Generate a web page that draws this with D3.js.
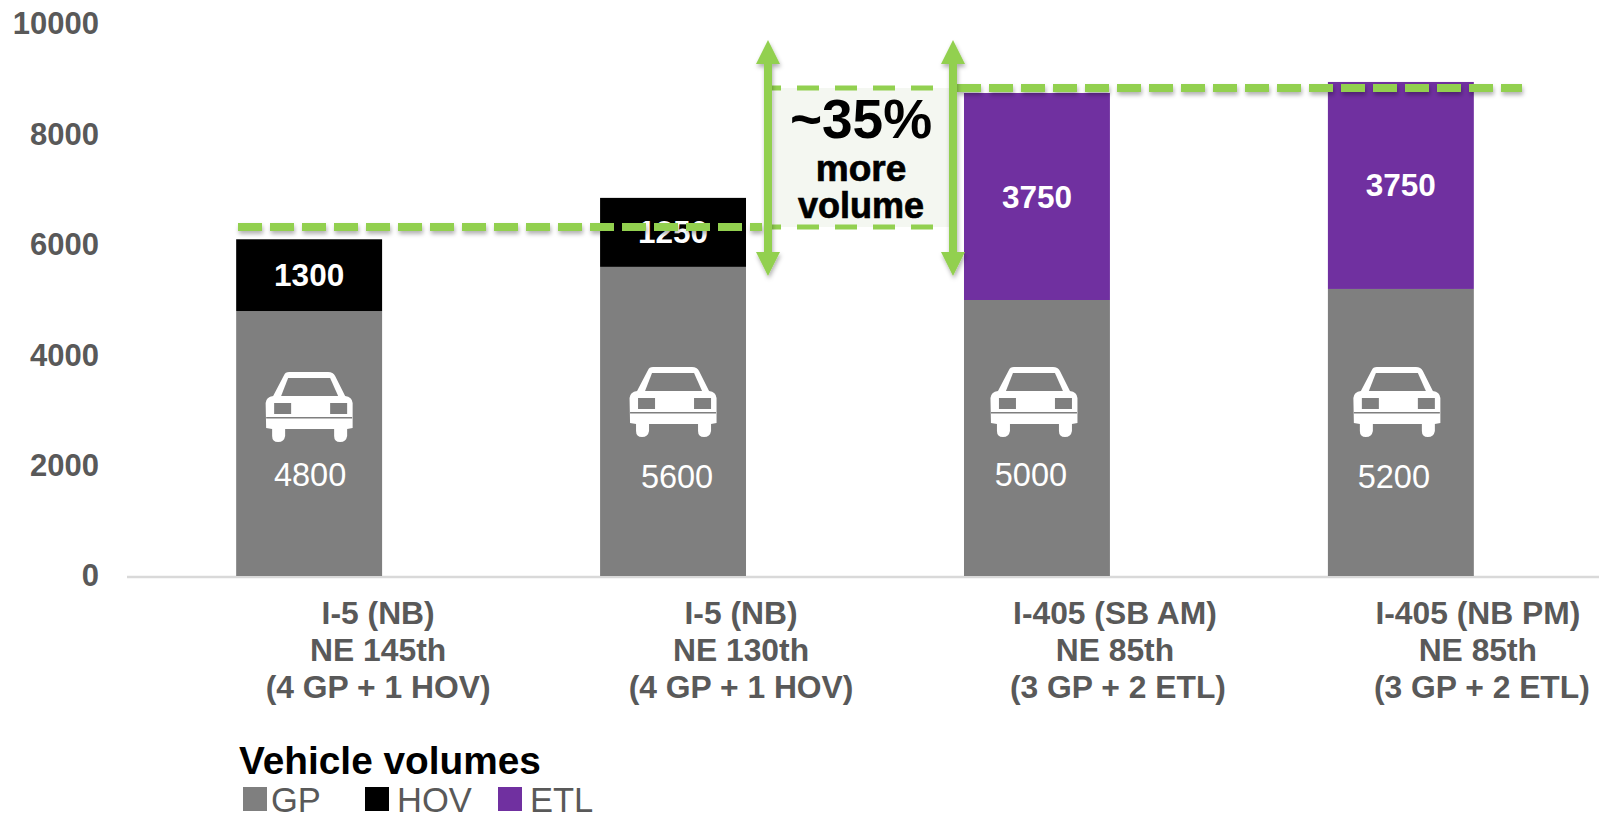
<!DOCTYPE html>
<html>
<head>
<meta charset="utf-8">
<script src="https://cdn.jsdelivr.net/npm/d3@7"></script>
<style>
  html, body { margin: 0; padding: 0; background: #fff; overflow: hidden; }
  svg { display: block; font-family: "Liberation Sans", Arial, sans-serif; }
</style>
</head>
<body>
<svg id="chart" width="1599" height="814"></svg>
<script>
const categories = ["a", "b", "c", "d"]
const labelLines = [
  ["I-5 (NB)", "NE 145th", "(4 GP + 1 HOV)"],
  ["I-5 (NB)", "NE 130th", "(4 GP + 1 HOV)"],
  ["I-405 (SB AM)", "NE 85th", "(3 GP + 2 ETL)"],
  ["I-405 (NB PM)", "NE 85th", "(3 GP + 2 ETL)"]
]
const gp = [4800, 5600, 5000, 5200]
const hov = [1300, 1250, 0, 0]
const etl = [0, 0, 3750, 3750]
const yTicks = [0, 2000, 4000, 6000, 8000, 10000]
const seriesNames = ["GP", "HOV", "ETL"]
const refLow = 6322
const refHigh = 8841
const arrowLow = 5435
const arrowHigh = 9710

const colors = { GP: "#7f7f7f", HOV: "#000000", ETL: "#7030a0" }
const green = "#92d050"
const grayText = "#595959"

const svg = d3.select("#chart")
const defs = svg.append("defs")
// user space units, a horizontal line has an empty bounding box
defs.append("filter").attr("id", "shadow")
    .attr("filterUnits", "userSpaceOnUse")
    .attr("x", 0).attr("y", 0).attr("width", 1599).attr("height", 814)
  .append("feDropShadow")
    .attr("dx", 1).attr("dy", 3).attr("stdDeviation", 2)
    .attr("flood-color", "#000").attr("flood-opacity", 0.3)

const x = d3.scaleBand().domain(categories).range([127, 1583]).paddingInner(0.599).paddingOuter(0.3)
const y = d3.scaleLinear().domain([0, 10000]).range([576, 24])

const rows = categories.map((c, i) => ({ cat: c, GP: gp[i], HOV: hov[i], ETL: etl[i] }))
const stacked = d3.stack().keys(seriesNames)(rows)

// y axis
const yAxis = svg.append("g")
    .attr("transform", "translate(127,0)")
    .call(d3.axisLeft(y).tickValues(yTicks).tickSize(0).tickPadding(28).tickFormat(d3.format("d")))
yAxis.select(".domain").remove()
yAxis.selectAll("text")
    .attr("font-family", "Liberation Sans")
    .attr("font-size", 31)
    .attr("font-weight", "bold")
    .attr("fill", grayText)

// baseline
svg.append("line")
    .attr("x1", 127).attr("x2", 1599)
    .attr("y1", y(0) + 1).attr("y2", y(0) + 1)
    .attr("stroke", "#d9d9d9").attr("stroke-width", 2.5)

// stacked bars
svg.append("g").selectAll("g")
  .data(stacked)
  .join("g")
    .attr("fill", d => colors[d.key])
  .selectAll("rect")
  .data(d => d.filter(s => s[1] > s[0]).map(s => ({ s, cat: s.data.cat })))
  .join("rect")
    .attr("x", d => x(d.cat))
    .attr("width", x.bandwidth())
    .attr("y", d => y(d.s[1]))
    .attr("height", d => y(d.s[0]) - y(d.s[1]))

// car icons on the GP bars
const carOutline = "M-25,3 Q-24,0 -20,0 L19,0 Q24,0 26,4 L36,24 Q43,25 43.5,31 L43.5,56 L38,57 L38,64 Q37,70 31,70 Q25,70 25,64 L25,57 L-24,57 L-24,64 Q-25,70 -31,70 Q-37,70 -37,64 L-37,57 L-43,56 L-43.5,31 Q-43,25 -36,24 Z"
const carDx = [0, 0, -3, -4]
const carTop = [372, 367, 367, 367]
const cars = svg.append("g").selectAll("g")
  .data(categories)
  .join("g")
    .attr("transform", (d, i) => `translate(${x(d) + x.bandwidth() / 2 + carDx[i]},${carTop[i]})`)
cars.append("path").attr("d", carOutline).attr("fill", "#fff")
cars.append("path").attr("d", "M-21,6 L21,6 L29,24 L-28,24 Z").attr("fill", colors.GP)
cars.append("rect").attr("x", -35).attr("y", 31).attr("width", 17).attr("height", 11).attr("fill", colors.GP)
cars.append("rect").attr("x", 21).attr("y", 31).attr("width", 17).attr("height", 11).attr("fill", colors.GP)
cars.append("rect").attr("x", -43).attr("y", 45).attr("width", 86).attr("height", 1.5).attr("fill", colors.GP)

// value labels
const gpLabelDx = [1, 4, -6, -7]
svg.append("g").selectAll("text")
  .data(gp)
  .join("text")
    .attr("x", (d, i) => x(categories[i]) + x.bandwidth() / 2 + gpLabelDx[i])
    .attr("y", (d, i) => y(1830) + (i % 2 ? 2 : 0))
    .attr("text-anchor", "middle")
    .attr("dominant-baseline", "central")
    .attr("font-size", 32.5)
    .attr("fill", "#fff")
    .text(d => d)

const topLabels = stacked.slice(1).flatMap(layer =>
  layer.filter(s => s[1] > s[0]).map(s => ({ cat: s.data.cat, mid: (s[0] + s[1]) / 2, val: s[1] - s[0] })))
svg.append("g").selectAll("text")
  .data(topLabels)
  .join("text")
    .attr("x", d => x(d.cat) + x.bandwidth() / 2)
    .attr("y", d => y(d.mid))
    .attr("text-anchor", "middle")
    .attr("dominant-baseline", "central")
    .attr("font-size", 31.5)
    .attr("font-weight", "bold")
    .attr("fill", "#fff")
    .text(d => d.val)

// callout box between the two arrows
svg.append("rect")
    .attr("x", 773).attr("width", 177)
    .attr("y", y(refHigh)).attr("height", y(refLow) - y(refHigh))
    .attr("fill", "#f4f7f1")

// thin dashes inside the callout
svg.append("g").selectAll("line")
  .data([refLow, refHigh])
  .join("line")
    .attr("x1", 772).attr("x2", 946)
    .attr("y1", d => y(d)).attr("y2", d => y(d))
    .attr("stroke", green).attr("stroke-width", 5)
    .attr("stroke-dasharray", "22 16")
    .attr("stroke-dashoffset", 13)

// thick dashed reference lines
const refLines = [
  { v: refLow, x1: 238, x2: 762 },
  { v: refHigh, x1: 957, x2: 1522 }
]
svg.append("g").selectAll("line")
  .data(refLines)
  .join("line")
    .attr("x1", d => d.x1).attr("x2", d => d.x2)
    .attr("y1", d => y(d.v)).attr("y2", d => y(d.v))
    .attr("stroke", green).attr("stroke-width", 8)
    .attr("stroke-dasharray", "24 8")
    .attr("filter", "url(#shadow)")

// double headed arrows
const arrows = svg.append("g").selectAll("g")
  .data([768, 953])
  .join("g")
    .attr("fill", green)
    .attr("filter", "url(#shadow)")
arrows.append("rect")
    .attr("x", d => d - 4).attr("width", 8)
    .attr("y", y(arrowHigh) + 20).attr("height", y(arrowLow) - y(arrowHigh) - 40)
arrows.append("path")
    .attr("d", d => `M${d},${y(arrowHigh)} l12,24 l-24,0 Z`)
arrows.append("path")
    .attr("d", d => `M${d},${y(arrowLow)} l12,-24 l-24,0 Z`)

// callout text
const calloutText = [
  { t: "~35%", size: 55, cy: 119, sw: 0 },
  { t: "more", size: 37, cy: 168, sw: 0.7 },
  { t: "volume", size: 36, cy: 205, sw: 0.7 }
]
svg.append("g").selectAll("text")
  .data(calloutText)
  .join("text")
    .attr("x", 861)
    .attr("y", d => d.cy)
    .attr("text-anchor", "middle")
    .attr("dominant-baseline", "central")
    .attr("font-size", d => d.size)
    .attr("font-weight", "bold")
    .attr("fill", "#000")
    .attr("stroke", "#000")
    .attr("stroke-width", d => d.sw)
    .text(d => d.t)

// category labels, first two lines of the I-405 ones sit a bit further left
const labelDx = [69, 68, 81, 81]
const upperLineDx = [0, 0, -3, -4]
const catLabels = svg.append("g").selectAll("text")
  .data(categories)
  .join("text")
    .attr("text-anchor", "middle")
    .attr("font-size", 31.8)
    .attr("font-weight", "bold")
    .attr("fill", grayText)
catLabels.selectAll("tspan")
  .data((d, i) => labelLines[i].map((t, j) => ({
    t,
    cx: x(d) + x.bandwidth() / 2 + labelDx[i] + (j < 2 ? upperLineDx[i] : 0)
  })))
  .join("tspan")
    .attr("x", d => d.cx)
    .attr("y", (d, i) => 613 + i * 36.9)
    .attr("dominant-baseline", "central")
    .text(d => d.t)

// legend
svg.append("text")
    .attr("x", 239).attr("y", 760)
    .attr("dominant-baseline", "central")
    .attr("font-size", 38.8)
    .attr("font-weight", "bold")
    .attr("fill", "#000")
    .text("Vehicle volumes")

const swatchX = [243, 365, 498]
const legend = svg.append("g").selectAll("g")
  .data(seriesNames)
  .join("g")
    .attr("transform", (d, i) => `translate(${swatchX[i]},787)`)
legend.append("rect")
    .attr("width", 24).attr("height", 24)
    .attr("fill", d => colors[d])
legend.append("text")
    .attr("x", (d, i) => i == 0 ? 28 : 32)
    .attr("y", 13)
    .attr("dominant-baseline", "central")
    .attr("font-size", 34.5)
    .attr("fill", grayText)
    .text(d => d)
</script>
</body>
</html>
